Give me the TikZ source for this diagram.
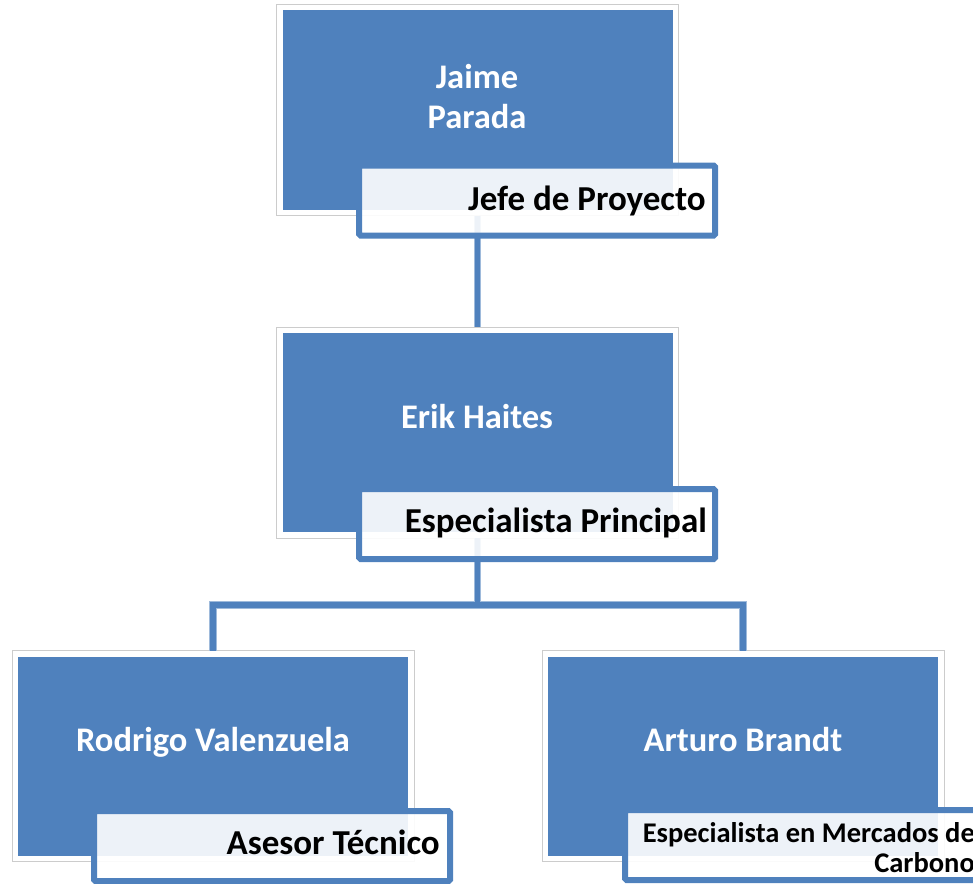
\documentclass[tikz,border=0pt]{standalone}
\usepackage{fontspec}
\setmainfont{Carlito}
\definecolor{obl}{HTML}{4F81BD}
\begin{document}
\begin{tikzpicture}[x=1pt,y=-1pt,
  pbox/.style={rectangle, draw=white, line width=6pt, fill=obl, inner sep=0pt,
    minimum width=396pt, minimum height=205pt},
  pout/.style={draw=black!20, line width=0.8pt},
  lab/.style={rectangle, draw=obl, line width=6pt, rounded corners=1.5pt, fill=white,
    fill opacity=0.9, draw opacity=1, inner sep=0pt, minimum width=356pt, minimum height=70pt},
  nametext/.style={text=white, font=\bfseries\fontsize{34.5}{40}\selectfont, align=center, inner sep=0pt},
  roletext/.style={text=black, font=\bfseries\fontsize{35}{40}\selectfont, inner sep=0pt},
  roletextsm/.style={text=black, font=\bfseries\fontsize{28.5}{30}\selectfont, align=right, inner sep=0pt},
  conn/.style={draw=obl, line width=5.5pt, preaction={draw=obl!55, line width=7.5pt}}]
\useasboundingbox (0,0) rectangle (973,883);
\clip (0,0) rectangle (973,883);

\coordinate (bar) at (477.5,605);

% boxes
\node[pbox] (b1) at (477.5,110) {};
\node[pbox] (b2) at (477.5,432.5) {};
\node[pbox] (b3) at (213,756) {};
\node[pbox] (b4) at (743,756) {};
\foreach \b in {b1,b2,b3,b4}{\draw[pout] (\b.north west) rectangle (\b.south east);}

% connectors
\draw[conn] (b1.south) -- (b2.north);
\draw[conn] (b2.south) -- (bar) (b3.north) |- (bar) -| (b4.north);

% names
\node[nametext] (n1) at (477,97) {Jaime\\Parada};
\node[nametext, anchor=base] (n2) at (477,428) {Erik Haites};
\node[nametext, anchor=base] (n3) at (213,751) {Rodrigo Valenzuela};
\node[nametext, anchor=base] (n4) at (743,751) {Arturo Brandt};

% role labels
\node[lab] (l1) at (537,200.5) {};
\node[lab] (l2) at (537,524) {};
\node[lab] (l3) at (272,846) {};
\node[lab] (l4) at (803,845) {};

\node[roletext, anchor=base east] (r1) at (706,210) {Jefe de Proyecto};
\node[roletext, anchor=base east] (r2) at (707,532) {Especialista Principal};
\node[roletext, anchor=base east] (r3) at (440,854) {Asesor Técnico};
\node[roletextsm, anchor=east] (r4) at (975,848) {Especialista en Mercados de\\Carbono};
\end{tikzpicture}
\end{document}
